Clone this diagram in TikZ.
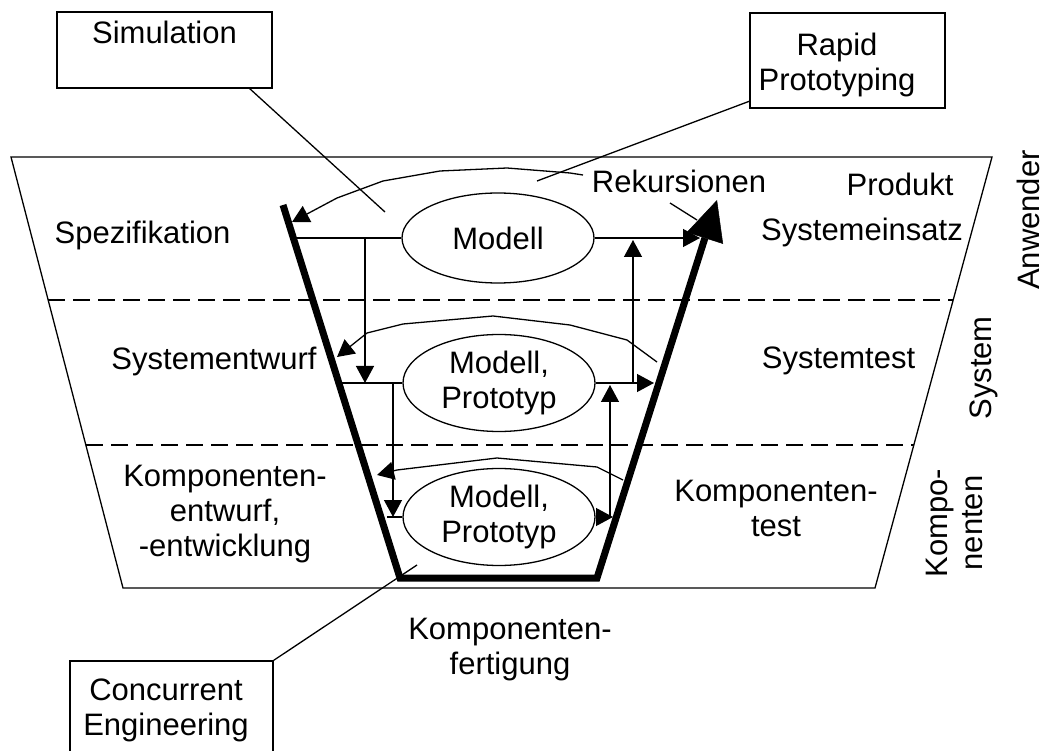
\documentclass[tikz,border=0pt]{standalone}
\usepackage{fontspec}
\setmainfont{Liberation Sans}
\usetikzlibrary{arrows.meta,shapes.geometric}

\begin{document}
\begin{tikzpicture}[x=1pt,y=-1pt,
  every node/.style={font=\fontsize{31}{35}\selectfont},
  lbl/.style={inner sep=0pt, align=center},
  frame/.style={draw, line width=1.3pt, inner sep=0pt},
  thin/.style={line width=1.3pt},
  sepline/.style={line width=1.3pt, dash pattern=on 17pt off 8pt},
  flow/.style={line width=1.3pt, line join=round, -{Triangle[length=17pt,width=18pt]}},
  vpath/.style={line width=7pt, line join=miter, -{Triangle[length=40pt,width=38pt,line width=0.5pt]}},
  ell/.style={draw, ellipse, line width=1.3pt, inner sep=0pt, align=center, minimum width=192pt}]

\useasboundingbox (0,0) rectangle (1045,751);

% outer field and level separators
\coordinate (tl) at (11,157);
\coordinate (tr) at (992,157);
\coordinate (br) at (875,588);
\coordinate (bl) at (123,588);
\draw[thin, line join=miter] (tl) -- (tr) -- (br) -- (bl) -- cycle;
\coordinate (s1l) at (48,300);  \coordinate (s1r) at (953,300);
\coordinate (s2l) at (86,445);  \coordinate (s2r) at (914,445);
\draw[sepline] (s1l) -- (s1r);
\draw[sepline] (s2l) -- (s2r);

% the V path
\coordinate (vTL) at (283,205);
\coordinate (vBL) at (400,578);
\coordinate (vBR) at (597,578);
\coordinate (vTR) at (717,200);
\draw[vpath] (vTL) -- (vBL) -- (vBR) -- (vTR);

% models on the three levels
\node[ell, minimum height=90pt] (m1) at (498,238) {Modell};
\node[ell, minimum height=97pt] (m2) at (499,383) {Modell,\\Prototyp};
\node[ell, minimum height=97pt] (m3) at (499,517) {Modell,\\Prototyp};

% horizontal flows
\coordinate (l1) at (293,238);  \coordinate (r1) at (700,238);
\coordinate (l2) at (341,383);  \coordinate (r2) at (654,383);
\coordinate (l3) at (387,517);  \coordinate (r3) at (613,517);
\draw[thin] (l1) -- (m1.west);
\draw[flow] (m1.east) -- (r1);
\draw[thin] (l2) -- (m2.west);
\draw[flow] (m2.east) -- (r2);
\draw[thin] (l3) -- (m3.west);
\draw[flow] (m3.east) -- (r3);

% vertical flows between levels
\coordinate (d1a) at (365,238); \coordinate (d1b) at (365,383);
\coordinate (d2a) at (393,383); \coordinate (d2b) at (393,517);
\coordinate (u1a) at (633,383); \coordinate (u1b) at (633,240);
\coordinate (u2a) at (610,517); \coordinate (u2b) at (610,385);
\draw[flow] (d1a) -- (d1b);
\draw[flow] (d2a) -- (d2b);
\draw[flow] (u1a) -- (u1b);
\draw[flow] (u2a) -- (u2b);

% recursion loops
\coordinate (a1s) at (583,175);
\coordinate (a1e) at (292,222);
\draw[flow] (a1s) -- (570,173) -- (507,168) -- (440,171) -- (383,181) -- (337,198) -- (a1e);
\coordinate (a2s) at (657,362);
\coordinate (a2e) at (337,357);
\draw[flow] (a2s) -- (627,340) -- (570,325) -- (493,316) -- (403,324) -- (367,333) -- (a2e);
\coordinate (a3s) at (623,480);
\coordinate (a3e) at (377,475);
\draw[flow] (a3s) -- (597,467) -- (497,458) -- (397,470) -- (a3e);

% level labels
\node[lbl] (spez) at (142.5,235) {Spezifikation};
\node[lbl] (sysentw) at (214,362) {Systementwurf};
\node[lbl] (kentw) at (225,514) {Komponenten-\\entwurf,\\-entwicklung};
\node[lbl] (prod) at (900,184) {Produkt};
\node[lbl] (syseins) at (862,232) {Systemeinsatz};
\node[lbl] (systest) at (838.5,361) {Systemtest};
\node[lbl] (ktest) at (776,508) {Komponenten-\\test};
\node[lbl] (kfert) at (510,650) {Komponenten-\\fertigung};
\node[lbl] (rek) at (679,181) {Rekursionen};

% side labels
\node[lbl, rotate=90] (anw) at (1028,220) {Anwender};
\node[lbl, rotate=90] (sys) at (984,368) {System};
\node[lbl, rotate=90] (komp) at (954,523) {Kompo-\\nenten};

% method boxes
\node[frame, minimum width=215pt, minimum height=76pt] (simB) at (164.5,50) {};
\node[lbl] (simT) at (164.5,32) {Simulation};
\node[frame, minimum width=195pt, minimum height=95pt] (rapB) at (847.5,60.5) {};
\node[lbl] (rapT) at (837,65) {Rapid\\Prototyping};
\node[frame, minimum width=203pt, minimum height=100pt] (ceB) at (171.5,711) {};
\node[lbl] (ceT) at (166,710) {Concurrent\\Engineering};

% leader lines
\coordinate (simFoot) at (249,88);
\coordinate (simTip) at (385,212);
\draw[thin] (simFoot) -- (simTip);
\coordinate (rapFoot) at (750,101);
\coordinate (rapTip) at (537,181);
\draw[thin] (rapFoot) -- (rapTip);
\coordinate (rekFoot) at (670,203);
\coordinate (rekTip) at (697,220);
\draw[thin] (rekFoot) -- (rekTip);
\coordinate (ceTip) at (417,565);
\draw[thin] (ceB.north east) -- (ceTip);

\end{tikzpicture}
\end{document}
